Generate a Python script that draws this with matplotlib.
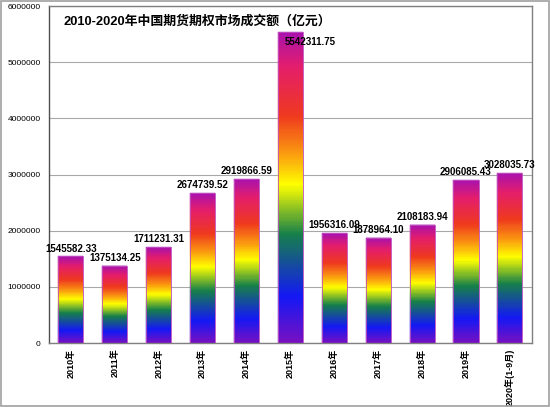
import numpy as np
import matplotlib
matplotlib.use('Agg')
from matplotlib import pyplot as plt
from matplotlib.colors import LinearSegmentedColormap

plt.rcParams['font.family'] = ['Liberation Sans', 'Noto Sans CJK SC', 'DejaVu Sans']

"DATA"
years = ['2010年', '2011年', '2012年', '2013年', '2014年', '2015年',
         '2016年', '2017年', '2018年', '2019年', '2020年(1-9月)']
volume = [1545582.33, 1375134.25, 1711231.31, 2674739.52, 2919866.59, 5542311.75,
          1956316.09, 1878964.10, 2108183.94, 2906085.43, 3028035.73]
y_ticks = [0, 1000000, 2000000, 3000000, 4000000, 5000000, 6000000]

"RAINBOW FILL"
rainbow = LinearSegmentedColormap.from_list('rainbow_fill', [
    (0.00, '#7a10c0'),
    (0.15, '#1418f5'),
    (0.35, '#16804a'),
    (0.51, '#ffff00'),
    (0.61, '#fb9a10'),
    (0.73, '#ef3a1e'),
    (0.89, '#e41e6c'),
    (1.00, '#a812ae'),
], N=512)
n_seg = 150
frac = np.linspace(0, 1, n_seg + 1)
seg_colors = rainbow((frac[:-1] + frac[1:]) / 2)

fig = plt.figure(figsize=(5.5, 4.07), dpi=100)
ax = fig.add_axes([0.089, 0.157, 0.878, 0.828])

x = np.arange(len(years))
w = 0.57
for i, v in enumerate(volume):
    # stack thin slices to build the vertical gradient
    ax.bar(np.full(n_seg, x[i]), np.diff(frac) * v, bottom=frac[:-1] * v, width=w,
           color=seg_colors, edgecolor=seg_colors, linewidth=0.3, zorder=2)
    ax.bar(x[i], v, width=w, fill=False, edgecolor='#c050c0', linewidth=0.6, zorder=3)
    if i == 5:
        ax.annotate(f'{v:.2f}', (x[i], v), xytext=(14, -4), textcoords='offset points',
                    ha='center', va='top', fontsize=7, fontweight='bold', zorder=4)
    else:
        ax.annotate(f'{v:.2f}', (x[i], v), xytext=(0, 2), textcoords='offset points',
                    ha='center', va='bottom', fontsize=7, fontweight='bold', zorder=4)

ax.set_xlim(-0.5, len(years) - 0.5)
ax.set_ylim(0, 6000000)
ax.set_yticks(y_ticks)
ax.set_yticklabels([str(t) for t in y_ticks], fontsize=6)
ax.set_xticks(x)
ax.set_xticklabels(years, rotation=90, fontsize=6.5, fontweight='bold')
ax.tick_params(length=0)
ax.tick_params(axis='x', pad=4)
ax.tick_params(axis='y', pad=6)
ax.yaxis.grid(True, color='#a8a8a8', linewidth=0.8, zorder=0)
ax.set_axisbelow(True)
for s in ax.spines.values():
    s.set_color('#808080')
    s.set_linewidth(1)
ax.spines['left'].set_color('#505050')

ax.text(0.03, 0.972, '2010-2020年中国期货期权市场成交额（亿元）', transform=ax.transAxes,
        fontsize=9.3, fontweight='bold', va='top', ha='left', zorder=5)

fig.patches.append(plt.Rectangle((0.002, 0.002), 0.996, 0.996, transform=fig.transFigure,
                                 fill=False, edgecolor='#a0a0a0', linewidth=1.2))

fig.savefig('out.png', dpi=100)
